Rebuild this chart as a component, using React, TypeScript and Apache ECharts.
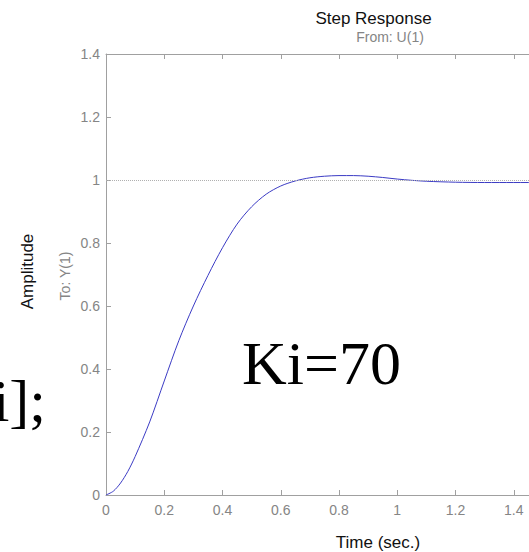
import React, { useEffect, useRef } from "react";
import * as echarts from "echarts";

const timeSec = [0, 0.025, 0.05, 0.075, 0.1, 0.15, 0.2, 0.25, 0.3, 0.35, 0.4, 0.45, 0.5, 0.55, 0.6, 0.65, 0.7, 0.75, 0.8, 0.85, 0.9, 0.95, 1.0, 1.05, 1.1, 1.2, 1.3, 1.4, 1.5, 1.6];
const amplitude = [0, 0.012, 0.038, 0.075, 0.122, 0.232, 0.362, 0.49, 0.6, 0.697, 0.785, 0.86, 0.915, 0.955, 0.981, 0.997, 1.007, 1.012, 1.014, 1.014, 1.012, 1.008, 1.003, 0.999, 0.996, 0.993, 0.992, 0.992, 0.992, 0.992];
const referenceLevel = 1;
const titleText = "Step Response";
const fromText = "From: U(1)";
const toText = "To: Y(1)";
const yName = "Amplitude";
const xName = "Time (sec.)";
const noteText = "Ki=70";
const leftFragment = "i];";

const SANS = "'Liberation Sans', Arial, Helvetica, sans-serif";
const SERIF = "'Liberation Serif', 'Times New Roman', serif";

export default function App() {
  const ref = useRef<HTMLDivElement>(null);
  useEffect(() => {
    document.body.style.margin = "0";
    const chart = echarts.init(ref.current!, null, { renderer: "svg" });
    const axisGray = "#a0a0a0";
    const labelGray = "#858585";
    chart.setOption({
      animation: false,
      backgroundColor: "#ffffff",
      grid: { left: 106, top: 54, width: 466, height: 441, containLabel: false, outerBoundsMode: "none" },
      xAxis: [
        {
          type: "value",
          min: 0,
          max: 1.6,
          interval: 0.2,
          position: "bottom",
          axisLine: { show: true, lineStyle: { color: axisGray, width: 1 } },
          axisTick: { show: true, inside: true, length: 5, lineStyle: { color: axisGray } },
          axisLabel: {
            show: true,
            margin: 8,
            color: labelGray,
            fontSize: 14,
            fontFamily: SANS,
            formatter: (v: number) => (v > 1.5 ? "" : String(Math.round(v * 10) / 10)),
          },
          splitLine: { show: false },
        },
        {
          type: "value",
          min: 0,
          max: 1.6,
          interval: 0.2,
          position: "top",
          axisLine: { show: true, onZero: false, lineStyle: { color: axisGray, width: 1 } },
          axisTick: { show: true, inside: true, length: 5, lineStyle: { color: axisGray } },
          axisLabel: { show: false },
          splitLine: { show: false },
        },
      ],
      yAxis: {
        type: "value",
        min: 0,
        max: 1.4,
        interval: 0.2,
        axisLine: { show: true, lineStyle: { color: axisGray, width: 1 } },
        axisTick: { show: true, inside: true, length: 5, lineStyle: { color: axisGray } },
        axisLabel: { margin: 6, color: labelGray, fontSize: 14, fontFamily: SANS },
        splitLine: { show: false },
      },
      series: [
        {
          type: "line",
          xAxisIndex: 0,
          data: timeSec.map((t, i) => [t, amplitude[i]]),
          showSymbol: false,
          smooth: 0.3,
          lineStyle: { color: "#3b3bc4", width: 1 },
          markLine: {
            silent: true,
            symbol: "none",
            label: { show: false },
            lineStyle: { color: "#b0b0b0", type: "dotted", width: 1 },
            data: [{ yAxis: referenceLevel }],
          },
        },
      ],
      graphic: [
        { type: "text", x: 373.5, y: 18, style: { text: titleText, font: `17px ${SANS}`, fill: "#111", align: "center", verticalAlign: "middle" } },
        { type: "text", x: 390, y: 37, style: { text: fromText, font: `14px ${SANS}`, fill: labelGray, align: "center", verticalAlign: "middle" } },
        { type: "text", x: 27.5, y: 271.5, rotation: Math.PI / 2, style: { text: yName, font: `17px ${SANS}`, fill: "#111", align: "center", verticalAlign: "middle" } },
        { type: "text", x: 64.5, y: 276, rotation: Math.PI / 2, style: { text: toText, font: `14px ${SANS}`, fill: labelGray, align: "center", verticalAlign: "middle" } },
        { type: "text", x: 378, y: 542, style: { text: xName, font: `17px ${SANS}`, fill: "#111", align: "center", verticalAlign: "middle" } },
        { type: "text", x: 242, y: 362.5, style: { text: noteText, font: `62px ${SERIF}`, fill: "#000", align: "left", verticalAlign: "middle" } },
        { type: "text", x: 46, y: 400.5, style: { text: leftFragment, font: `60px ${SERIF}`, fill: "#000", align: "right", verticalAlign: "middle" } },
      ],
    });
    return () => chart.dispose();
  }, []);
  return <div ref={ref} style={{ width: 529, height: 552 }} />;
}
